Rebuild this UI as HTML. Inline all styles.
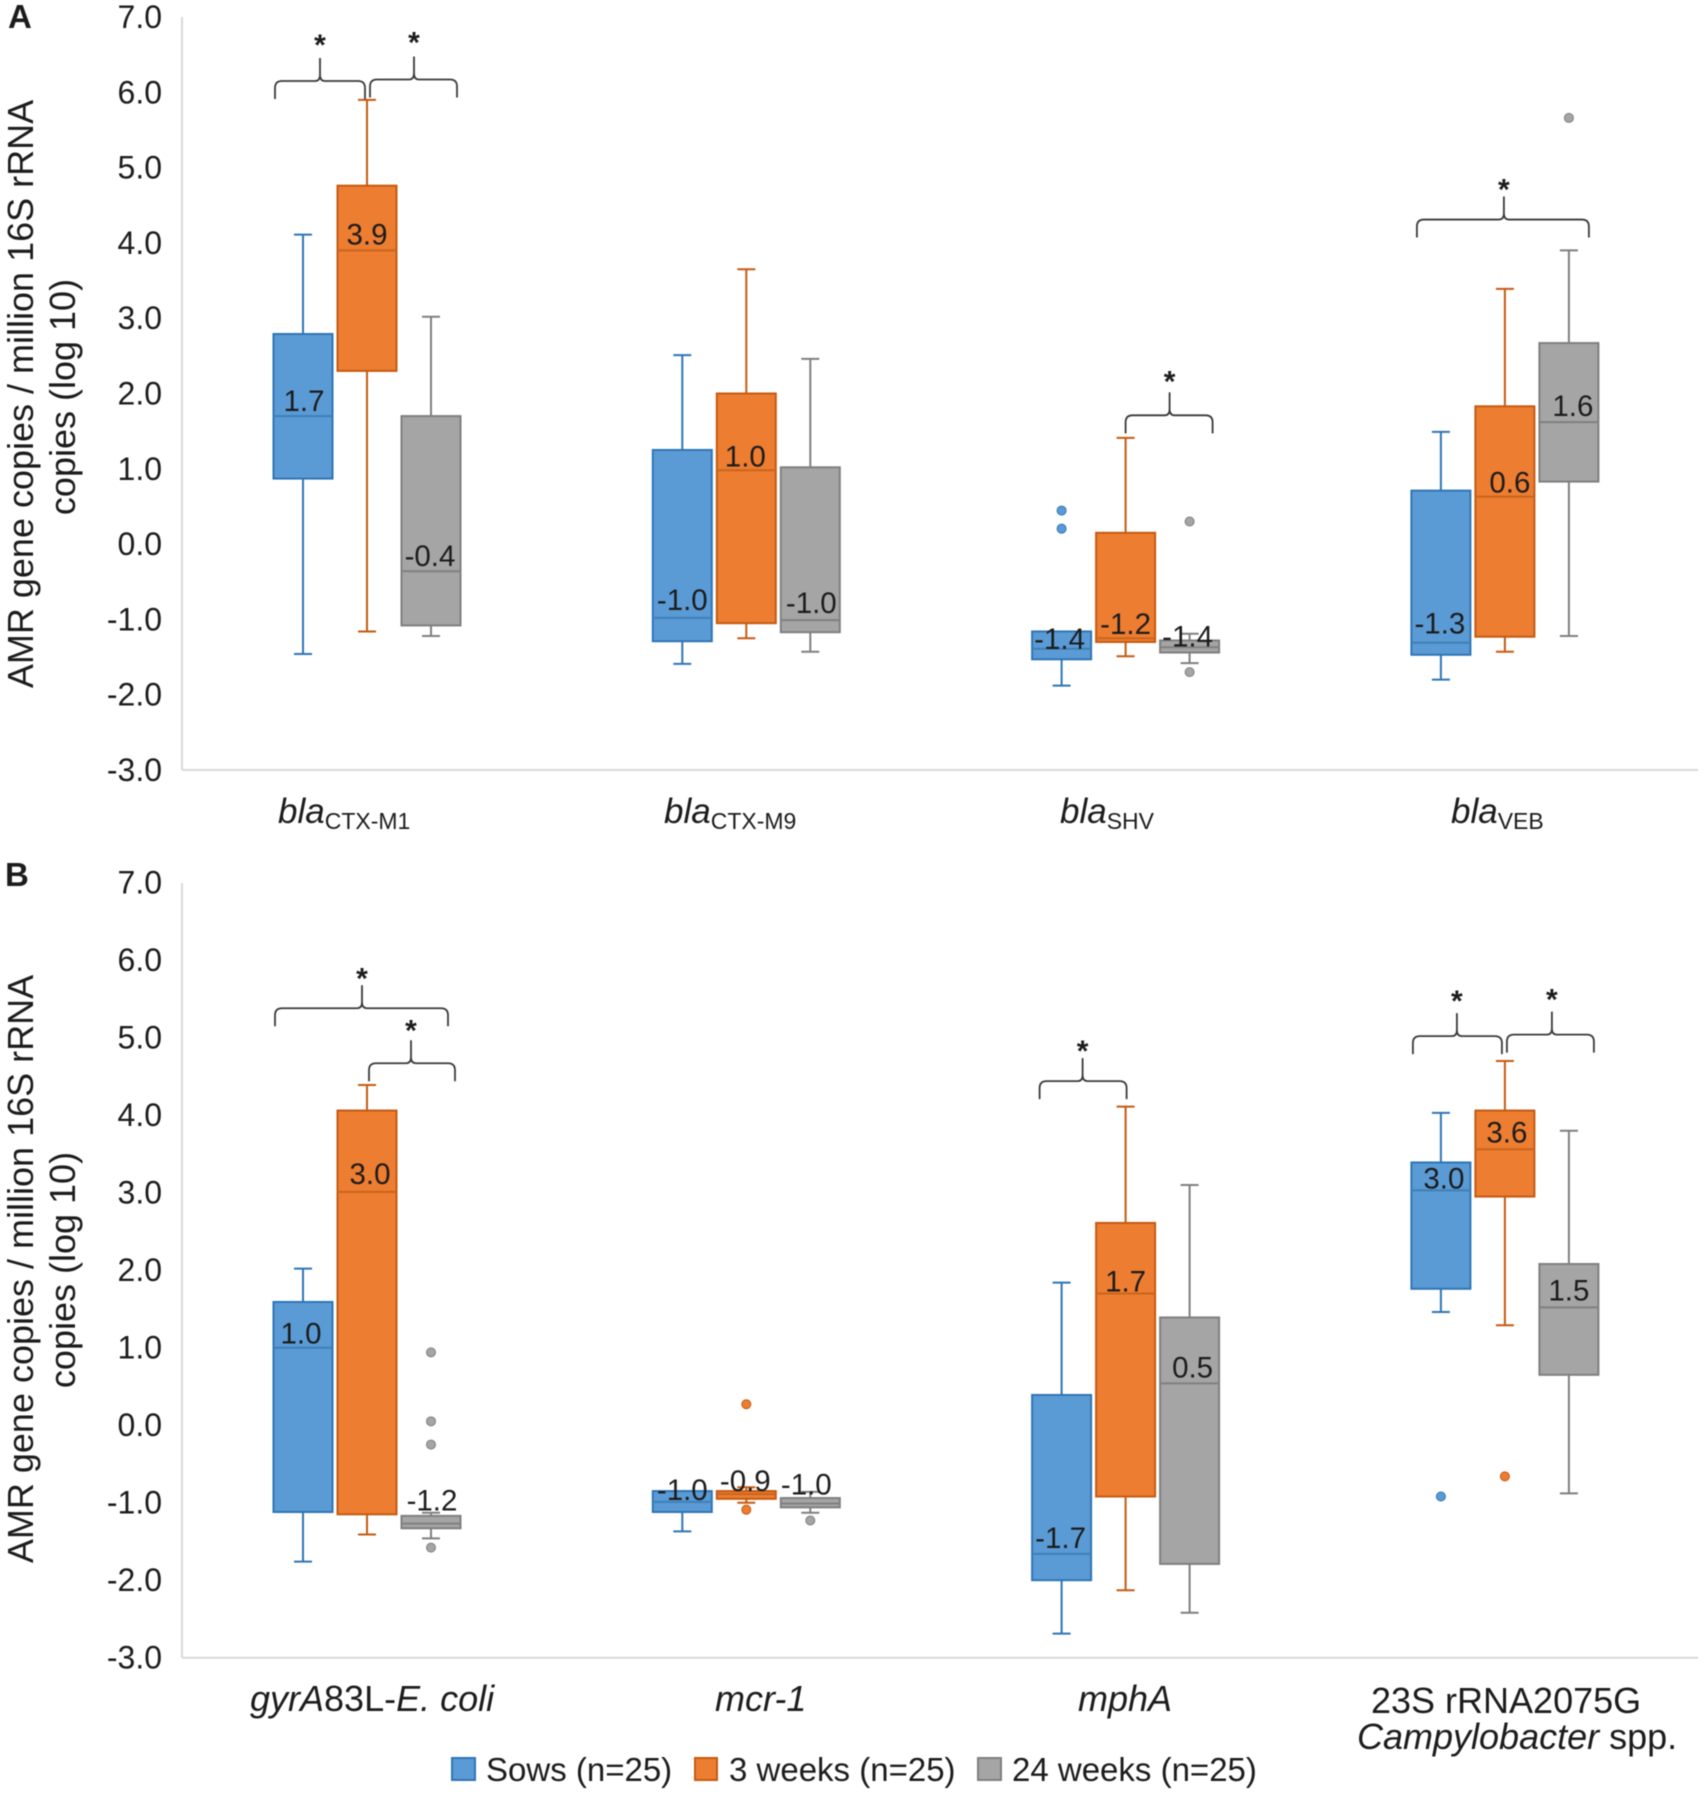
<!DOCTYPE html>
<html lang="en">
<head>
<meta charset="utf-8">
<title>AMR gene copies box plots</title>
<style>
html,body{margin:0;padding:0;background:#fff;}
svg{display:block;font-family:"Liberation Sans",sans-serif;filter:blur(0.4px);}
text{fill:#1c1c1c;}
</style>
</head>
<body>
<svg id="figure" xmlns="http://www.w3.org/2000/svg" width="1705" height="1795" viewBox="0 0 1705 1795">
  <rect x="0" y="0" width="1705" height="1795" fill="#fff"/>
  <text x="8" y="28" font-size="33" font-weight="bold">A</text>
  <text x="5" y="886" font-size="33" font-weight="bold">B</text>

  <g font-size="36" text-anchor="middle">
    <text transform="translate(33,394) rotate(-90)">AMR gene copies / million 16S rRNA</text>
    <text transform="translate(75,397) rotate(-90)">copies (log 10)</text>
  </g>
  <g font-size="36" text-anchor="middle">
    <text transform="translate(33,1269) rotate(-90)">AMR gene copies / million 16S rRNA</text>
    <text transform="translate(75,1270) rotate(-90)">copies (log 10)</text>
  </g>

  <g font-size="35">
    <text x="278" y="823" font-style="italic">bla<tspan font-style="normal" font-size="23" dy="6">CTX-M1</tspan></text>
    <text x="664" y="823" font-style="italic">bla<tspan font-style="normal" font-size="23" dy="6">CTX-M9</tspan></text>
    <text x="1060" y="823" font-style="italic">bla<tspan font-style="normal" font-size="23" dy="6">SHV</tspan></text>
    <text x="1451" y="823" font-style="italic">bla<tspan font-style="normal" font-size="23" dy="6">VEB</tspan></text>
  </g>
  <g font-size="36">
    <text x="250" y="1711"><tspan font-style="italic">gyrA</tspan>83L-<tspan font-style="italic">E. coli</tspan></text>
    <text x="715" y="1711" font-style="italic">mcr-1</text>
    <text x="1078" y="1711" font-style="italic">mphA</text>
    <text x="1371" y="1713">23S rRNA2075G</text>
    <text x="1357" y="1749"><tspan font-style="italic">Campylobacter</tspan> spp.</text>
  </g>

  <g font-size="33">
    <g>
      <rect x="452" y="1758" width="23" height="22" fill="#5b9bd5" stroke="#2e75b6" stroke-width="2"/>
      <text x="486" y="1781">Sows (n=25)</text>
    </g>
    <g>
      <rect x="695" y="1758" width="22" height="22" fill="#ed7d31" stroke="#c55a11" stroke-width="2"/>
      <text x="729" y="1781">3 weeks (n=25)</text>
    </g>
    <g>
      <rect x="978" y="1758" width="23" height="22" fill="#a5a5a5" stroke="#7f7f7f" stroke-width="2"/>
      <text x="1012" y="1781">24 weeks (n=25)</text>
    </g>
  </g>
</svg>
<script>
// Shared axis data
const yTicks = [7, 6, 5, 4, 3, 2, 1, 0, -1, -2, -3];
const seriesNames = ['sows', '3-weeks', '24-weeks'];

// Panel A: rows = bla CTX-M1, CTX-M9, SHV, VEB; columns = Sows, 3 weeks, 24 weeks
const aCategories = ['bla-ctx-m1', 'bla-ctx-m9', 'bla-shv', 'bla-veb'];
const aHigh = [[4.11, 5.90, 3.02], [2.51, 3.65, 2.46], [-1.16, 1.41, -1.19], [1.49, 3.39, 3.90]];
const aQ3 = [[2.79, 4.76, 1.70], [1.25, 2.00, 1.02], [-1.16, 0.15, -1.28], [0.71, 1.83, 2.67]];
const aMedian = [[1.70, 3.90, -0.36], [-0.98, 0.98, -1.01], [-1.39, -1.25, -1.37], [-1.31, 0.63, 1.62]];
const aQ1 = [[0.87, 2.30, -1.08], [-1.29, -1.05, -1.17], [-1.53, -1.30, -1.44], [-1.47, -1.23, 0.83]];
const aLow = [[-1.46, -1.16, -1.22], [-1.59, -1.25, -1.43], [-1.88, -1.49, -1.58], [-1.80, -1.43, -1.22]];
const aOutliers = [[[], [], []], [[], [], []], [[0.445, 0.205], [], [0.30, -1.70]], [[], [], [5.66]]];
const aMedianLabels = [['1.7', '3.9', '-0.4'], ['-1.0', '1.0', '-1.0'], ['-1.4', '-1.2', '-1.4'], ['-1.3', '0.6', '1.6']];

// Panel B: rows = gyrA83L-E. coli, mcr-1, mphA, 23S rRNA; columns = Sows, 3 weeks, 24 weeks
const bCategories = ['gyra83l-e-coli', 'mcr-1', 'mpha', '23s-rrna2075g'];
const bHigh = [[2.02, 4.39, -1.13], [-0.85, -0.80, -0.86], [1.84, 4.11, 3.10], [4.03, 4.70, 3.80]];
const bQ3 = [[1.59, 4.06, -1.17], [-0.85, -0.85, -0.94], [0.39, 2.61, 1.39], [3.39, 4.06, 2.08]];
const bMedian = [[1.00, 3.01, -1.27], [-0.99, -0.89, -1.01], [-1.66, 1.70, 0.54], [3.03, 3.56, 1.52]];
const bQ1 = [[-1.12, -1.15, -1.33], [-1.12, -0.95, -1.06], [-2.00, -0.92, -1.79], [1.76, 2.95, 0.65]];
const bLow = [[-1.76, -1.41, -1.46], [-1.37, -1.00, -1.13], [-2.69, -2.13, -2.42], [1.46, 1.29, -0.88]];
const bOutliers = [[[], [], [0.94, 0.05, -0.25, -1.58]], [[], [0.27, -1.09], [-1.23]], [[], [], []], [[-0.92], [-0.66], []]];
const bMedianLabels = [['1.0', '3.0', '-1.2'], ['-1.0', '-0.9', '-1.0'], ['-1.7', '1.7', '0.5'], ['3.0', '3.6', '1.5']];

// Significance brackets: group index, value level of the brace
const aBracketGroups = [0, 0, 2, 3];
const aBracketLevels = [6.15, 6.17, 1.71, 4.31];
const bBracketGroups = [0, 0, 2, 3, 3];
const bBracketLevels = [5.38, 4.67, 4.44, 5.02, 5.04];

// Layout (not data)
const NS = 'http://www.w3.org/2000/svg';
const svg = document.getElementById('figure');
const colors = {
  fill: ['#5b9bd5', '#ed7d31', '#a5a5a5'],
  stroke: ['#2e75b6', '#c55a11', '#7f7f7f'],
  median: ['#3f7fb8', '#c9651c', '#808080']
};
const axisLeft = 182, axisRight = 1698, boxW = 59, capW = 18, seriesStep = 64;
const aLayout = { top: 17, zero: 770, unit: 75.3 };
const bLayout = { top: 883, zero: 1657.7, unit: 77.5 };
const aLabelNudge = [[[1, 15], [0, 16], [-1, 15]], [[0, 18], [-1, 14], [1, 17]], [[-2, 10], [0, 14], [-2, 11]], [[-1, 19], [5, 14], [4, 16]]];
const bLabelNudge = [[[-2, 14], [3, 18], [1, 23]], [[0, 12], [-1, 13], [-4, 19]], [[-1, 16], [0, 12], [3, 16]], [[3, 12], [2, 17], [0, 17]]];
const aBracketSpans = [[-92, -2, -47, -41], [3, 90, 47, -42], [0, 87, 44, -39], [-88, 84, -1, -35]];
const bBracketSpans = [[-92, 81, -5, -35], [2, 88, 44, -38], [-86, 1, -43, -35], [-92, -3, -48, -40], [2, 89, 47, -40]];

function xScale(group) { return 367 + 379.3 * group; }
function makeY(layout) { return function (v) { return layout.zero - (v + 3) * layout.unit; }; }
function node(tag, attrs, parent) {
  const el = document.createElementNS(NS, tag);
  for (const k in attrs) el.setAttribute(k, attrs[k]);
  (parent || svg).appendChild(el);
  return el;
}

function drawAxes(prefix, layout) {
  const y = makeY(layout);
  const g = node('g', {});
  
  
  const yLine = node('line', { x1: axisLeft, x2: axisLeft, y1: layout.top, y2: layout.zero, stroke: '#d9d9d9', 'stroke-width': 2 }, g);
  
  
  const xLine = node('line', { x1: axisLeft, x2: axisRight, y1: layout.zero, y2: layout.zero, stroke: '#d9d9d9', 'stroke-width': 2 }, g);
  
  
  yTicks.forEach(function (t) {
    const label = node('text', { x: 162, y: y(t) + 11, 'text-anchor': 'end', 'font-size': 32 }, g);
    label.textContent = t.toFixed(1);
    
    
  });
}

function drawBoxes(prefix, layout, d) {
  const y = makeY(layout);
  d.categories.forEach(function (cat, gi) {
    const group = node('g', {});
    
    
    seriesNames.forEach(function (series, si) {
      const cx = xScale(gi) + (si - 1) * seriesStep;
      const stroke = colors.stroke[si];
      const name = cat + '-' + series;
      const whisker = node('line', { x1: cx, x2: cx, y1: y(d.high[gi][si]), y2: y(d.low[gi][si]), stroke: stroke, 'stroke-width': 2 }, group);
      
      
      const capHigh = node('line', { x1: cx - capW / 2, x2: cx + capW / 2, y1: y(d.high[gi][si]), y2: y(d.high[gi][si]), stroke: stroke, 'stroke-width': 2 }, group);
      
      
      const capLow = node('line', { x1: cx - capW / 2, x2: cx + capW / 2, y1: y(d.low[gi][si]), y2: y(d.low[gi][si]), stroke: stroke, 'stroke-width': 2 }, group);
      
      
      const box = node('rect', { x: cx - boxW / 2, width: boxW, y: y(d.q3[gi][si]), height: y(d.q1[gi][si]) - y(d.q3[gi][si]), fill: colors.fill[si], stroke: stroke, 'stroke-width': 2 }, group);
      
      
      const med = node('line', { x1: cx - boxW / 2, x2: cx + boxW / 2, y1: y(d.median[gi][si]), y2: y(d.median[gi][si]), stroke: colors.median[si], 'stroke-width': 2 }, group);
      
      
      d.outliers[gi][si].forEach(function (v) {
        const dot = node('circle', { cx: cx, cy: y(v), r: 4.5, fill: colors.fill[si], stroke: stroke, 'stroke-width': 1 }, group);
        
        
      });
      const nudge = d.nudge[gi][si];
      const label = node('text', { x: cx + nudge[0], y: y(d.median[gi][si]) - nudge[1] + 10, 'text-anchor': 'middle', 'font-size': 29.5, fill: '#111' }, group);
      label.textContent = d.labels[gi][si];
      
      
    });
  });
}

function drawBrackets(prefix, layout, groups, levels, spans) {
  const y = makeY(layout);
  groups.forEach(function (gi, i) {
    const s = spans[i];
    const x1 = xScale(gi) + s[0], x2 = xScale(gi) + s[1], mid = xScale(gi) + s[2];
    const ly = y(levels[i]);
    const d = 'M' + x1 + ' ' + (ly + 18) + 'V' + (ly + 7) + 'Q' + x1 + ' ' + ly + ' ' + (x1 + 7) + ' ' + ly +
      'H' + (mid - 5) + 'Q' + mid + ' ' + ly + ' ' + mid + ' ' + (ly - 6) + 'V' + (ly - 23) +
      'M' + mid + ' ' + (ly - 6) + 'Q' + mid + ' ' + ly + ' ' + (mid + 5) + ' ' + ly +
      'H' + (x2 - 7) + 'Q' + x2 + ' ' + ly + ' ' + x2 + ' ' + (ly + 7) + 'V' + (ly + 18);
    const brace = node('path', { d: d, fill: 'none', stroke: '#3a3a3a', 'stroke-width': 1.8 });
    
    
    const star = node('text', { x: mid, y: ly + s[3] + 15, 'text-anchor': 'middle', 'font-size': 30, 'font-weight': 'bold', fill: '#1a2a3a' });
    star.textContent = '*';
    
    
  });
}

drawAxes('panel-a', aLayout);
drawAxes('panel-b', bLayout);
drawBoxes('panel-a', aLayout, { categories: aCategories, high: aHigh, q3: aQ3, median: aMedian, q1: aQ1, low: aLow, outliers: aOutliers, labels: aMedianLabels, nudge: aLabelNudge });
drawBoxes('panel-b', bLayout, { categories: bCategories, high: bHigh, q3: bQ3, median: bMedian, q1: bQ1, low: bLow, outliers: bOutliers, labels: bMedianLabels, nudge: bLabelNudge });
drawBrackets('panel-a', aLayout, aBracketGroups, aBracketLevels, aBracketSpans);
drawBrackets('panel-b', bLayout, bBracketGroups, bBracketLevels, bBracketSpans);
</script>
</body>
</html>
